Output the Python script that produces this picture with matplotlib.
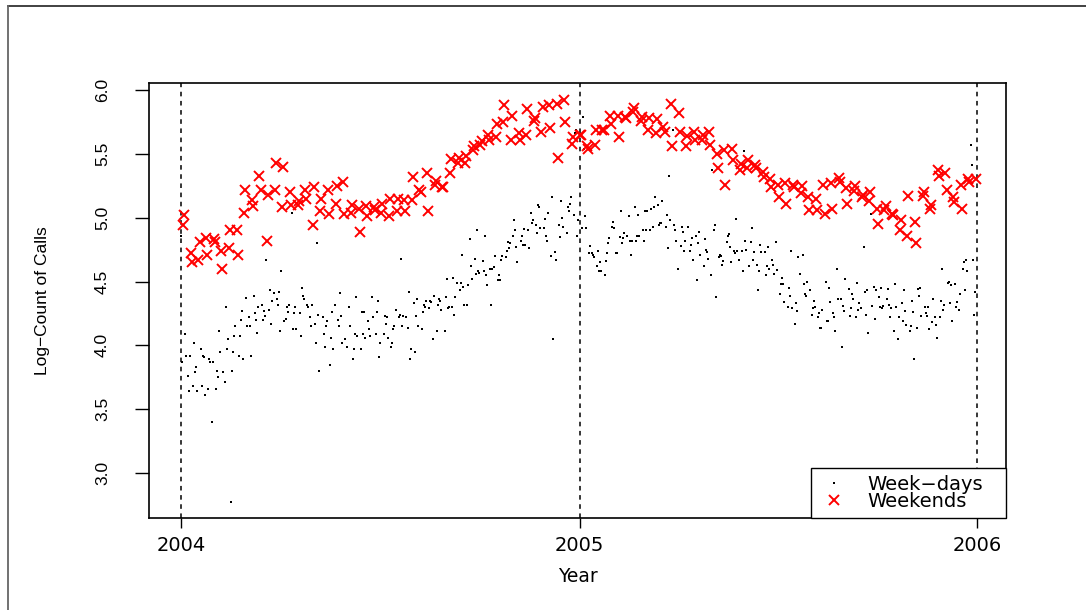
import numpy as np
import pandas as pd
import matplotlib
matplotlib.use("Agg")
import matplotlib.pyplot as plt
from matplotlib.lines import Line2D

# log-count of calls, in date order
# week-days (Mon-Fri), 2004-01-01 .. 2005-12-30
weekday_vals = np.array(
    # Jan - mid Apr 2004
    [4.86, 3.87, 4.09, 3.92, 3.76, 3.64, 3.92, 3.68, 4.02, 3.79, 3.83, 3.64, 3.97, 3.68, 3.92,
     3.91, 3.61, 3.66, 3.89, 3.87, 3.40, 3.87, 3.66, 3.80, 3.75, 4.11, 3.95, 3.79, 3.71, 4.30,
     3.97, 4.05, 2.77, 3.80, 3.95, 4.07, 4.15, 3.92, 4.07, 4.20, 4.27, 3.89, 4.37, 4.15, 4.22,
     4.15, 3.92, 4.39, 4.25, 4.20, 4.10, 4.30, 4.32, 4.20, 4.27, 4.23, 4.67, 4.28, 4.43, 4.17,
     4.35, 4.41, 4.36, 4.32, 4.42, 4.11, 4.58, 4.19, 4.21, 4.30, 4.26, 4.32, 5.04, 4.13, 4.25]
    # mid Apr - Aug 2004
    + [4.30, 4.13, 4.25, 4.07, 4.45, 4.39, 4.36, 4.32, 4.30, 4.22, 4.15, 4.32, 4.17, 4.02, 4.80,
       4.24, 3.80, 4.22, 4.09, 3.99, 4.15, 4.19, 3.85, 4.06, 4.26, 3.97, 4.32, 4.20, 4.15, 4.41,
       4.23, 4.02, 4.05, 3.99, 5.07, 4.30, 4.15, 3.89, 3.97, 4.09, 4.38, 4.07, 3.97, 4.26, 4.09,
       4.26, 4.06, 4.19, 4.13, 4.07, 4.38, 4.22, 4.09, 4.26, 4.35, 3.91, 4.02, 4.09, 4.23, 4.17,
       4.22, 4.06, 3.99, 4.02, 4.13, 4.15, 4.28, 4.22, 4.24, 4.68, 4.15, 4.23, 4.22, 4.14]
    # Aug - Dec 2004
    + [4.42, 3.89, 3.97, 4.33, 3.95, 4.23, 4.36, 4.15, 4.13, 4.26, 4.32, 4.30, 4.35, 4.29, 4.35,
       4.34, 4.05, 4.39, 4.11, 4.32, 4.36, 4.35, 4.28, 4.11, 4.38, 4.52, 4.29, 4.30, 4.30, 4.53,
       4.24, 4.38, 4.49, 4.43, 4.49, 4.71, 4.46, 4.32, 4.32, 4.47, 4.83, 4.62, 4.52, 4.68, 4.56,
       4.90, 4.58, 4.57, 4.66, 4.58, 4.86, 4.55, 4.47, 4.60, 4.32, 4.60, 4.61, 4.70, 4.51, 4.55,
       4.51, 4.67, 4.70, 4.69, 4.74, 4.81, 4.76, 4.80, 4.86, 4.98, 4.90, 4.77, 4.65, 4.82]
    # Dec 2004 - Apr 2005
    + [4.86, 4.79, 4.91, 4.79, 4.90, 4.76, 5.04, 4.96, 4.98, 4.94, 4.88, 5.10, 5.08, 4.92, 4.92,
       4.99, 4.86, 4.82, 5.04, 4.70, 5.16, 4.05, 4.73, 4.67, 4.94, 4.85, 5.13, 5.00, 4.93, 4.88,
       5.08, 5.05, 5.11, 5.16, 5.02, 5.66, 5.69, 4.86, 4.98, 4.92, 5.79, 5.54, 5.01, 4.92, 4.72,
       4.78, 4.72, 4.71, 4.69, 4.62, 4.74, 4.58, 4.65, 4.58, 4.55, 4.66, 4.72, 4.80, 4.84, 4.93,
       4.97, 4.92, 4.72, 4.72, 4.85, 5.05, 4.80, 4.84, 4.88, 4.86, 5.01, 4.82, 4.71, 4.82, 5.08]
    # Apr - Aug 2005
    + [4.82, 4.86, 5.02, 4.86, 4.90, 4.82, 5.05, 4.90, 5.05, 4.90, 5.07, 4.93, 5.08, 5.16, 5.10,
       4.94, 4.96, 4.96, 5.13, 4.93, 5.02, 4.76, 5.33, 4.98, 5.69, 4.94, 4.90, 4.82, 4.60, 4.78,
       4.93, 4.89, 4.74, 4.82, 4.93, 4.74, 4.79, 4.84, 4.67, 4.86, 4.51, 4.80, 4.89, 4.71, 4.62,
       4.83, 4.75, 4.73, 4.68, 4.55, 5.37, 4.90, 4.94, 4.38, 4.69, 4.71, 4.70, 4.63, 4.66, 4.81,
       4.86, 4.87, 4.77, 4.65, 4.74, 4.72, 4.99, 4.74, 4.67, 4.74, 4.58, 5.52, 4.82, 4.75, 4.62,
       4.81]
    # Aug - Nov 2005
    + [4.92, 4.67, 4.73, 4.63, 4.43, 4.58, 4.79, 4.73, 4.73, 4.55, 4.62, 4.77, 4.60, 4.67, 4.63,
       4.56, 4.81, 4.59, 4.40, 4.48, 4.53, 4.48, 4.34, 4.30, 4.45, 4.39, 4.74, 4.29, 4.17, 4.33,
       4.27, 4.69, 4.56, 4.71, 4.48, 4.40, 4.39, 4.50, 4.43, 4.24, 4.29, 4.35, 4.30, 4.22, 4.25,
       4.14, 4.14, 4.28, 4.50, 4.19, 4.19, 4.45, 4.34, 4.25, 4.22, 4.11, 4.60, 4.36, 4.36, 3.99,
       4.31, 4.27, 4.52, 4.44, 4.23, 4.29, 4.40, 4.36, 4.22, 4.49, 4.28, 4.33, 4.29, 4.77, 4.42]
    # Nov - Dec 2005
    + [4.24, 4.43, 4.10, 5.03, 4.31, 4.46, 4.21, 4.43, 4.38, 4.30, 4.45, 4.29, 4.31, 4.36, 4.44,
       4.32, 4.22, 4.29, 4.11, 4.48, 4.30, 4.05, 4.22, 4.33, 4.19, 4.43, 4.27, 4.16, 4.11, 4.15,
       4.35, 4.26, 3.89, 4.14, 4.44, 4.39, 4.45, 4.23, 4.30, 4.25, 4.23, 4.30, 4.13, 4.18, 4.36,
       4.22, 4.16, 4.06, 4.22, 4.35, 4.60, 4.28, 4.32, 4.49, 4.50, 4.33, 4.47, 4.19, 4.48, 4.30,
       4.34, 4.28, 4.40, 4.60, 4.65, 4.43, 4.67, 4.58, 5.57, 5.41, 4.67, 4.24, 4.42, 4.63]
)

# weekends (Sat/Sun), 2004-01-03 .. 2005-12-31
weekend_vals = np.array(
    [4.94, 5.02, 4.72, 4.65, 4.67, 4.81, 4.84, 4.71, 4.83, 4.81, 4.74, 4.60, 4.76, 4.90, 4.90,
     4.71, 5.04, 5.22, 5.14, 5.09, 5.33, 5.22, 4.82, 5.18, 5.22, 5.43, 5.08, 5.40, 5.20, 5.10,
     5.10,
     5.13, 5.22, 5.15, 4.94, 5.24, 5.05, 5.15, 5.22, 5.03, 5.11, 5.25, 5.28, 5.03, 5.04, 5.10,
     5.07, 4.89, 5.09, 5.01, 5.08, 5.06, 5.04, 5.11, 5.01, 5.15, 5.05, 5.15,
     5.14, 5.05, 5.14, 5.32, 5.22, 5.20, 5.35, 5.05, 5.26, 5.29, 5.24, 5.24, 5.35, 5.46, 5.43,
     5.47, 5.43, 5.48, 5.53, 5.56, 5.57, 5.60, 5.65, 5.61, 5.63, 5.73, 5.75, 5.88, 5.61, 5.80,
     5.66,
     5.61, 5.65, 5.85, 5.76, 5.78, 5.67, 5.87, 5.88, 5.70, 5.89, 5.47, 5.92, 5.75, 5.58, 5.63,
     5.65, 5.65, 5.56, 5.54, 5.57, 5.69, 5.69, 5.69, 5.80, 5.73, 5.80, 5.63,
     5.79,
     5.78, 5.83, 5.86, 5.76, 5.79, 5.69, 5.78, 5.66, 5.77, 5.71, 5.67, 5.89, 5.56, 5.82, 5.67,
     5.56, 5.64, 5.67, 5.61, 5.61, 5.65, 5.67, 5.57, 5.50, 5.39, 5.53, 5.26, 5.54, 5.45, 5.37,
     5.42,
     5.39, 5.45, 5.41, 5.39, 5.36, 5.32, 5.30, 5.24, 5.26, 5.16, 5.27, 5.11, 5.26, 5.24, 5.19,
     5.25, 5.16, 5.06, 5.15, 5.06, 5.26, 5.03, 5.27, 5.07, 5.31, 5.28, 5.23, 5.11, 5.21, 5.25,
     5.16, 5.18, 5.13, 5.20, 5.07, 4.95, 5.06, 5.09, 5.03, 5.02, 4.90, 4.98, 4.86, 5.17, 4.97,
     4.80, 5.17, 5.20, 5.07, 5.10, 5.37, 5.33, 5.35, 5.22, 5.16, 5.12, 5.26, 5.07, 5.30, 5.28,
     5.30]
)

year_ticks = ["2004-01-01", "2005-01-01", "2006-01-01"]
year_labels = ["2004", "2005", "2006"]
y_ticks = [3.0, 3.5, 4.0, 4.5, 5.0, 5.5, 6.0]
series_labels = ["Week\u2212days", "Weekends"]

days = pd.date_range("2004-01-01", "2005-12-31", freq="D")
weekend = days.dayofweek >= 5
wd_days = days[~weekend]
we_days = days[weekend]
n_wd = min(len(wd_days), len(weekday_vals))
n_we = min(len(we_days), len(weekend_vals))

W, H = 1086, 610
fig = plt.figure(figsize=(W / 100, H / 100), dpi=100)
ax = fig.add_axes([149 / W, (H - 518) / H, 857 / W, 435 / H])

wd_line, = ax.plot(wd_days[:n_wd], weekday_vals[:n_wd], linestyle="none", marker="s",
                   markersize=1.9, markeredgewidth=0, color="black")
we_line, = ax.plot(we_days[:n_we], weekend_vals[:n_we], linestyle="none", marker="x",
                   markersize=6.5, markeredgewidth=1.4, color="#ff0000")

ticks = pd.to_datetime(year_ticks)
for t in ticks:
    ax.axvline(t, color="black", lw=1.1, linestyle=(0, (3, 3)), zorder=0)

ax.set_xlim(ticks[0] - pd.Timedelta(days=29.4), ticks[-1] + pd.Timedelta(days=26.6))
ax.set_ylim(2.648, 6.055)

ax.set_xticks(ticks)
ax.set_xticklabels(year_labels, fontsize=14, family="DejaVu Sans")
ax.set_yticks(y_ticks)
ax.set_yticklabels([f"{v:.1f}" for v in y_ticks], rotation=90, va="center",
                   fontsize=12.5, family=["Liberation Sans Narrow", "Liberation Sans"])
ax.tick_params(axis="x", direction="out", length=7, width=1, pad=6)
ax.tick_params(axis="y", direction="out", length=10, width=1, pad=18)
for s in ax.spines.values():
    s.set_linewidth(1.2)
    s.set_color("black")

fig.text(43 / W, 1 - 300.5 / H, "Log\u2212Count of Calls", rotation=90, ha="center", va="center",
         fontsize=12.5, family=["Liberation Sans Narrow", "Liberation Sans"])
fig.text(577.5 / W, 1 - 577 / H, "Year", ha="center", va="center", fontsize=13.5,
         family="DejaVu Sans")

leg = ax.legend([wd_line, we_line], series_labels, loc="lower left",
                bbox_to_anchor=((811 - 149) / 857, 0, (1006 - 811) / 857, 51 / 435),
                mode="expand", borderaxespad=0, fontsize=14, borderpad=0.36,
                handlelength=1.6, handletextpad=0.95, labelspacing=-0.1,
                fancybox=False, edgecolor="black", framealpha=1, numpoints=1)
leg.get_frame().set_linewidth(1.0)

# outer device frame (top and left edges visible)
fig.add_artist(Line2D([8 / W, 1], [1 - 6 / H, 1 - 6 / H], transform=fig.transFigure,
                      color="#333333", lw=1.3))
fig.add_artist(Line2D([8 / W, 8 / W], [0, 1 - 6 / H], transform=fig.transFigure,
                      color="#666666", lw=1.3))

fig.savefig("out.png", dpi=100, facecolor="white")
